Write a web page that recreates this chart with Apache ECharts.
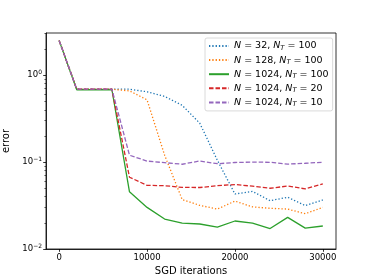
<!DOCTYPE html>
<html>
<head>
<meta charset="utf-8">
<script src="https://cdn.jsdelivr.net/npm/echarts@6/dist/echarts.min.js"></script>
<style>html,body{margin:0;padding:0;background:#fff}#c{width:374px;height:280px}</style>
</head>
<body>
<div id="c"></div>
<script>
const iterations = [0,2000,4000,6000,8000,10000,12000,14000,16000,18000,20000,22000,24000,26000,28000,30000];
const seriesNames = ['N = 32, N_T = 100','N = 128, N_T = 100','N = 1024, N_T = 100','N = 1024, N_T = 20','N = 1024, N_T = 10'];
const errN32T100 = [2.5,0.69,0.69,0.69,0.69,0.645,0.57,0.45,0.28,0.105,0.043,0.046,0.036,0.0394,0.0316,0.0367];
const errN128T100 = [2.5,0.69,0.69,0.69,0.66,0.52,0.12,0.037,0.0318,0.0288,0.0356,0.0305,0.0294,0.0288,0.0255,0.0301];
const errN1024T100 = [2.5,0.68,0.68,0.68,0.0455,0.0301,0.0221,0.0199,0.0194,0.0179,0.021,0.0199,0.0172,0.0231,0.0174,0.0184];
const errN1024T20 = [2.5,0.69,0.69,0.69,0.067,0.054,0.0535,0.0512,0.051,0.0535,0.0552,0.0528,0.050,0.053,0.0492,0.0562];
const errN1024T10 = [2.5,0.69,0.69,0.69,0.12,0.1027,0.0985,0.0945,0.103,0.0958,0.099,0.1,0.0995,0.0948,0.097,0.0995];
const xTicks = [0,10000,20000,30000];
const yTicks = [0.01,0.1,1];
const yMinorTicks = [0.02,0.03,0.04,0.05,0.06,0.07,0.08,0.09,0.2,0.3,0.4,0.5,0.6,0.7,0.8,0.9,2,3];

const allSeries = [errN32T100, errN128T100, errN1024T100, errN1024T20, errN1024T10];
const colors = ['#1f77b4','#ff7f0e','#2ca02c','#d62728','#9467bd'];
const dashes = [[1.3,2],[1.3,2],'solid',[4.5,2],[4.5,2]];
const FONT = 'DejaVu Sans';

const chart = echarts.init(document.getElementById('c'), null, {renderer:'canvas'});
const series = allSeries.map((vals,k)=>({
  name: seriesNames[k],
  type: 'line',
  yAxisIndex: 0,
  symbol: 'none',
  data: iterations.map((x,i)=>[x, vals[i]]),
  lineStyle: {color: colors[k], width: 1.3, type: dashes[k]},
  itemStyle: {color: colors[k]},
  animation: false
}));

const expFmt = v => {
  const e = Math.round(Math.log10(v));
  return '{b|10}{sup|' + (e < 0 ? '\u2212' + (-e) : e) + '}';
};

chart.setOption({
  animation: false,
  backgroundColor: '#fff',
  textStyle: {fontFamily: FONT},
  grid: {left: 46, right: 38, top: 33, bottom: 31, containLabel: false, outerBoundsMode: 'none',
         show: true, borderColor: '#000', borderWidth: 0.8, backgroundColor: 'transparent'},
  legend: {
    orient: 'vertical', left: 205, top: 38,
    itemWidth: 20, itemHeight: 8, itemGap: 3.6,
    padding: [3, 4, 3, 3],
    backgroundColor: 'rgba(255,255,255,0.8)', borderColor: '#d0d0d0', borderWidth: 0.8, borderRadius: 2,
    itemStyle: {color: 'rgba(0,0,0,0)', borderWidth: 0, opacity: 0},
    data: seriesNames,
    formatter: name => {
      const m = name.match(/N = (\d+), N_T = (\d+)/);
      return '{i|N} = ' + m[1] + ', {i|N}{sub|T} = ' + m[2];
    },
    textStyle: {
      fontFamily: FONT, fontSize: 9.5, color: '#000',
      rich: {
        i: {fontFamily: FONT, fontStyle: 'italic', fontSize: 9.5, color: '#000'},
        sub: {fontFamily: FONT, fontStyle: 'italic', fontSize: 6.7, color: '#000', padding: [4,0,0,0]}
      }
    }
  },
  xAxis: {
    type: 'value', min: -1500, max: 31500,
    name: 'SGD iterations', nameLocation: 'middle', nameGap: 17,
    nameTextStyle: {fontFamily: FONT, fontSize: 10, color: '#000'},
    axisLine: {show: true, onZero: false, lineStyle: {color: '#000', width: 0.8}},
    axisTick: {show: true, length: 2.8, lineStyle: {color: '#000', width: 0.8}, customValues: xTicks},
    axisLabel: {fontFamily: FONT, fontSize: 8.5, color: '#000', margin: 4, customValues: xTicks, formatter: v => String(v)},
    splitLine: {show: false}
  },
  yAxis: [{
    type: 'log', min: 0.01, max: 3.06, logBase: 10,
    name: 'error', nameLocation: 'middle', nameGap: 30,
    nameTextStyle: {fontFamily: FONT, fontSize: 10, color: '#000'},
    axisLine: {show: true, onZero: false, lineStyle: {color: '#000', width: 0.8}},
    axisTick: {show: true, length: 2.8, lineStyle: {color: '#000', width: 0.8}, customValues: yTicks},
    axisLabel: {
      margin: 4, customValues: yTicks, formatter: expFmt,
      rich: {
        b: {fontFamily: FONT, fontSize: 8.5, color: '#000'},
        sup: {fontFamily: FONT, fontSize: 6, color: '#000', padding: [0,0,5,0]}
      }
    },
    splitLine: {show: false}
  }, {
    type: 'log', min: 0.01, max: 3.06, logBase: 10, position: 'left',
    axisLine: {show: false, onZero: false},
    axisTick: {show: true, length: 1.6, lineStyle: {color: '#000', width: 0.6}, customValues: yMinorTicks},
    axisLabel: {show: false},
    splitLine: {show: false}
  }],
  series: series
});
</script>
</body>
</html>
